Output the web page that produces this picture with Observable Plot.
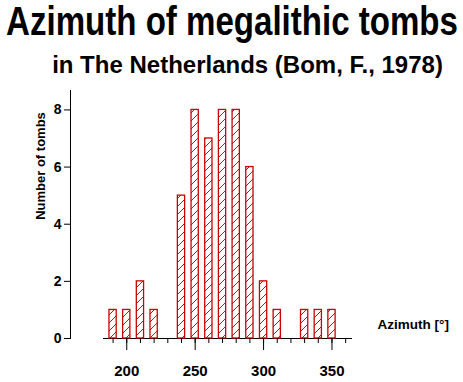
<!DOCTYPE html>
<html>
<head>
<meta charset="utf-8">
<script src="https://cdn.jsdelivr.net/npm/d3@7"></script>
<script src="https://cdn.jsdelivr.net/npm/@observablehq/plot@0.6"></script>
<style>
  html, body { margin: 0; padding: 0; background: #fff; }
  svg { display: block; font-family: "Liberation Sans", Arial, Helvetica, sans-serif; }
</style>
</head>
<body>
<div id="chart"></div>
<script>
// Data
const azimuth = [190, 200, 210, 220, 230, 240, 250, 260, 270, 280, 290, 300, 310, 330, 340, 350];
const counts  = [1, 1, 2, 1, 0, 5, 8, 7, 8, 8, 6, 2, 1, 1, 1, 1];
const minorTicks = [190, 200, 210, 220, 230, 240, 250, 260, 270, 280, 290, 300, 310, 320, 330, 340, 350, 360];
const majorTicks = [200, 250, 300, 350];
const yTicks = [0, 2, 4, 6, 8];
const xDomain = [183, 365];
const yDomain = [0, 8.68];

const title = "Azimuth of megalithic tombs";
const subtitle = "in The Netherlands (Bom, F., 1978)";
const xLabel = "Azimuth [°]";
const yLabel = "Number of tombs";

const bins = azimuth.map((az, i) => ({az, count: counts[i]}));
const halfW = 2.65;

const plot = Plot.plot({
  width: 463,
  height: 382,
  marginLeft: 70,
  marginRight: 111,
  marginTop: 90,
  marginBottom: 44,
  style: {background: "#fff", color: "#000", overflow: "visible"},
  x: {domain: xDomain, range: [103, 352]},
  y: {domain: yDomain},
  marks: [
    Plot.frame({anchor: "left", stroke: "#000"}),
    Plot.ruleY([0], {x1: xDomain[0], x2: xDomain[1], stroke: "#000"}),
    Plot.rectY(bins, {
      x1: d => d.az - halfW,
      x2: d => d.az + halfW,
      y: "count",
      fill: "url(#hatch)",
      stroke: "#cc0000",
      strokeWidth: 1.3
    }),
    Plot.axisX(minorTicks, {tickSize: 5, tickFormat: () => "", label: null, stroke: "#000"}),
    Plot.axisX(majorTicks, {tickSize: 12, tickPadding: 15, fontSize: 15, fontWeight: "bold", label: null, stroke: "#000", fill: "#000"}),
    Plot.axisY(yTicks, {tickSize: 6, tickPadding: 3, fontSize: 14, fontWeight: "bold", label: null, stroke: "#000", fill: "#000"}),
    Plot.text([yLabel], {frameAnchor: "left", textAnchor: "middle", rotate: -90, dx: -26, dy: -48.5, fontSize: 13, fontWeight: "bold", fill: "#000", lineAnchor: "bottom"}),
    Plot.text([xLabel], {frameAnchor: "bottom-right", textAnchor: "start", dx: 25, dy: -10, fontSize: 13.5, fontWeight: "bold", fill: "#000", lineAnchor: "bottom"}),
    Plot.text([title], {frameAnchor: "top", textAnchor: "middle", dx: 20.5, dy: -55.5, fontSize: 40, fontWeight: "bold", fill: "#000", lineAnchor: "bottom", className: "ttl"}),
    Plot.text([subtitle], {frameAnchor: "top", textAnchor: "middle", dx: 36, dy: -17.3, fontSize: 24, fontWeight: "bold", fill: "#000", lineAnchor: "bottom", className: "sub"})
  ]
});

// hatch pattern definition for the bars
const svg = d3.select(plot);
const defs = svg.insert("defs", ":first-child");
const pat = defs.append("pattern")
  .attr("id", "hatch")
  .attr("patternUnits", "userSpaceOnUse")
  .attr("width", 8)
  .attr("height", 8);
pat.append("rect").attr("width", 8).attr("height", 8).attr("fill", "#fff");
pat.append("path")
  .attr("d", "M0,8 L8,0 M-2,2 L2,-2 M6,10 L10,6")
  .attr("stroke", "#8a2a2a")
  .attr("stroke-width", 1);

document.getElementById("chart").appendChild(plot);

// condense a text group horizontally around its centre (reference uses a narrow bold face)
function condense(sel, targetWidth) {
  const g = svg.select(sel);
  const t = g.select("text").node();
  if (!t) return;
  const r = t.getBoundingClientRect();
  const svgR = plot.getBoundingClientRect();
  const cx = r.left - svgR.left + r.width / 2;
  const k = Math.min(1, targetWidth / r.width);
  const prev = g.attr("transform") || "";
  g.attr("transform", `translate(${cx},0) scale(${k},1) translate(${-cx},0) ${prev}`);
}
condense(".ttl", 452);
condense(".sub", 396);
</script>
</body>
</html>
